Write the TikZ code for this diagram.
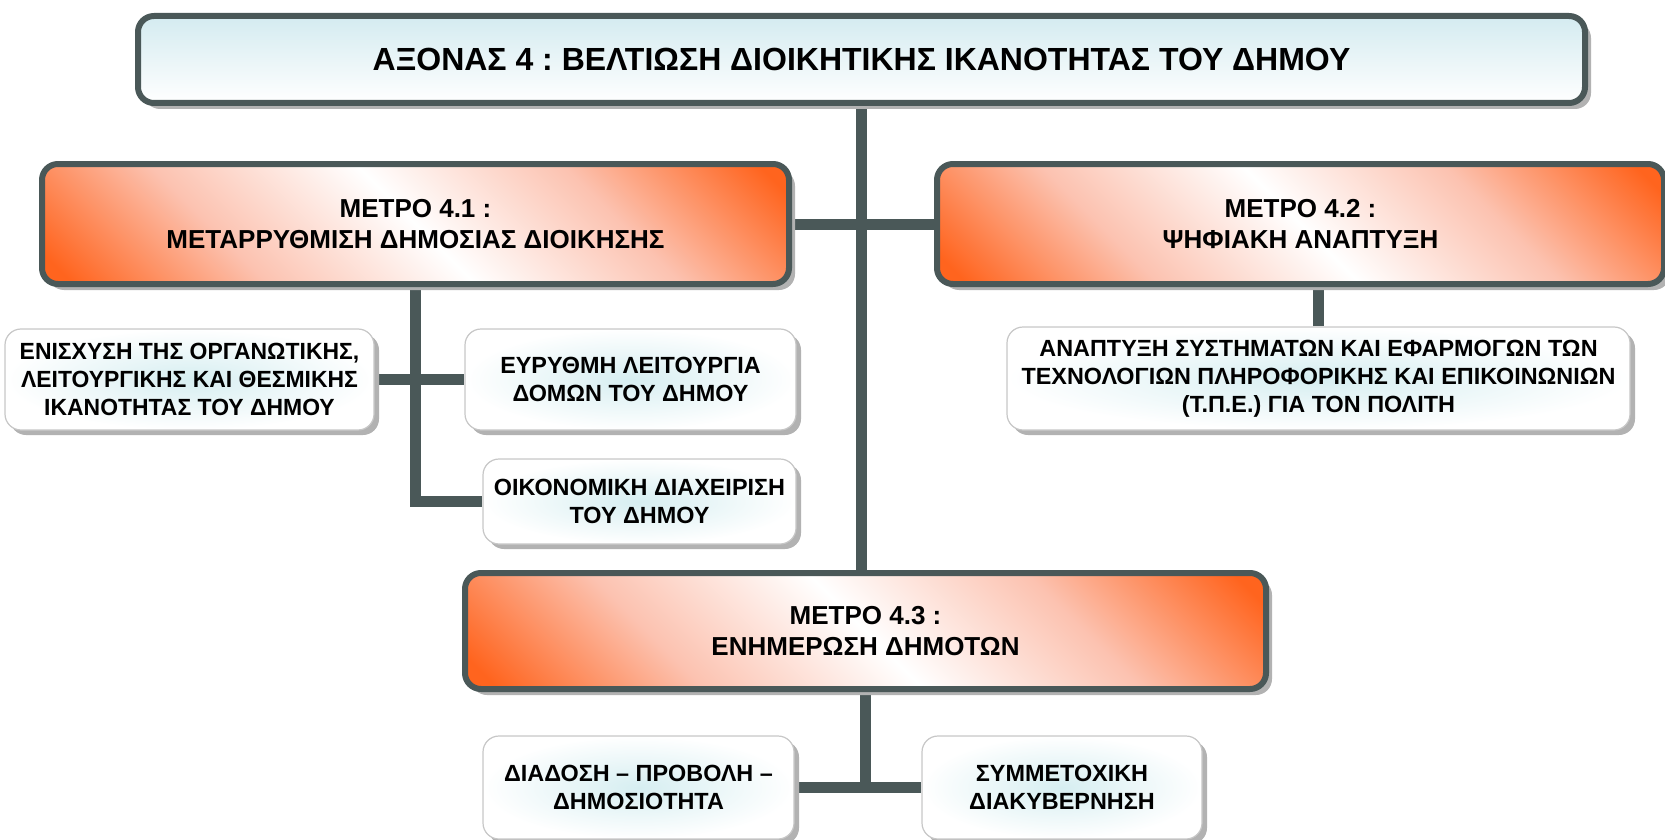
\documentclass[tikz,border=0pt]{standalone}
\usepackage{fontspec}
\setmainfont{Liberation Sans}
\frenchspacing
\usetikzlibrary{shadows,backgrounds}
\definecolor{slate}{RGB}{74,88,88}
\definecolor{mOrange}{RGB}{255,100,30}
\definecolor{mPeach}{RGB}{252,194,176}
\definecolor{tCyan}{RGB}{212,235,240}
\definecolor{gCyan}{RGB}{214,238,241}
\definecolor{sGray}{RGB}{178,178,178}
\pgfdeclareverticalshading{measureshade}{100bp}{color(0bp)=(mOrange); color(17bp)=(mOrange); color(33bp)=(mPeach); color(50bp)=(white); color(67bp)=(mPeach); color(83bp)=(mOrange); color(100bp)=(mOrange)}
\tikzset{
  mainbox/.style={draw=slate, line width=3pt, rounded corners=8pt, align=center, inner sep=0pt,
    font=\bfseries\fontsize{13}{15.5}\selectfont,
    drop shadow={shadow xshift=3pt, shadow yshift=-3pt, fill=sGray, opacity=1}},
  measure/.style={mainbox, shading=measureshade, shading angle=-45},
  leaf/.style={draw=black!22, line width=0.6pt, rounded corners=8pt, align=center, inner sep=0pt,
    shading=radial, inner color=gCyan, outer color=white,
    font=\bfseries\fontsize{11.7}{14}\selectfont,
    drop shadow={shadow xshift=2.5pt, shadow yshift=-2.5pt, fill=sGray, opacity=1}},
  link/.style={draw=slate, line width=5.5pt}
}
\begin{document}
\begin{tikzpicture}[x=0.5pt,y=-0.5pt] % pixel units, y down
  \useasboundingbox (0,0) rectangle (1665,840);
  % axis and measures
  \node[mainbox, top color=tCyan, bottom color=white, minimum width=723.5pt, minimum height=43.5pt,
    font=\bfseries\fontsize{16}{18}\selectfont] (axis) at (861.5,59.5)
    {ΑΞΟΝΑΣ 4 : ΒΕΛΤΙΩΣΗ ΔΙΟΙΚΗΤΙΚΗΣ ΙΚΑΝΟΤΗΤΑΣ ΤΟΥ ΔΗΜΟΥ};
  \node[measure, minimum width=373.5pt, minimum height=60pt] (m41) at (415.5,224)
    {ΜΕΤΡΟ 4.1 :\\ ΜΕΤΑΡΡΥΘΜΙΣΗ ΔΗΜΟΣΙΑΣ ΔΙΟΙΚΗΣΗΣ};
  \node[measure, minimum width=363.5pt, minimum height=60pt] (m42) at (1300.5,224)
    {ΜΕΤΡΟ 4.2 :\\ ΨΗΦΙΑΚΗ ΑΝΑΠΤΥΞΗ};
  \node[measure, minimum width=400.5pt, minimum height=58pt] (m43) at (865.5,631)
    {ΜΕΤΡΟ 4.3 :\\ ΕΝΗΜΕΡΩΣΗ ΔΗΜΟΤΩΝ};
  % actions
  \node[leaf, minimum width=184.5pt, minimum height=50.5pt,
    font=\bfseries\fontsize{11.7}{14}\selectfont\addfontfeatures{FakeStretch=0.98}] (org) at (189.5,379.5)
    {ΕΝΙΣΧΥΣΗ ΤΗΣ ΟΡΓΑΝΩΤΙΚΗΣ,\\ ΛΕΙΤΟΥΡΓΙΚΗΣ ΚΑΙ ΘΕΣΜΙΚΗΣ\\ ΙΚΑΝΟΤΗΤΑΣ ΤΟΥ ΔΗΜΟΥ};
  \node[leaf, minimum width=165.5pt, minimum height=50.5pt] (dom) at (630.5,379.5)
    {ΕΥΡΥΘΜΗ ΛΕΙΤΟΥΡΓΙΑ\\ ΔΟΜΩΝ ΤΟΥ ΔΗΜΟΥ};
  \node[leaf, minimum width=156.5pt, minimum height=42.5pt] (oik) at (639.5,501.5)
    {ΟΙΚΟΝΟΜΙΚΗ ΔΙΑΧΕΙΡΙΣΗ\\ ΤΟΥ ΔΗΜΟΥ};
  \node[leaf, minimum width=311.5pt, minimum height=51.5pt] (tpe) at (1318.5,378.5)
    {ΑΝΑΠΤΥΞΗ ΣΥΣΤΗΜΑΤΩΝ ΚΑΙ ΕΦΑΡΜΟΓΩΝ ΤΩΝ\\ ΤΕΧΝΟΛΟΓΙΩΝ ΠΛΗΡΟΦΟΡΙΚΗΣ ΚΑΙ ΕΠΙΚΟΙΝΩΝΙΩΝ\\ (Τ.Π.Ε.) ΓΙΑ ΤΟΝ ΠΟΛΙΤΗ};
  \node[leaf, minimum width=155.5pt, minimum height=51.5pt] (diad) at (638.5,787.5)
    {ΔΙΑΔΟΣΗ – ΠΡΟΒΟΛΗ –\\ ΔΗΜΟΣΙΟΤΗΤΑ};
  \node[leaf, minimum width=140pt, minimum height=51.5pt] (symm) at (1062,787.5)
    {ΣΥΜΜΕΤΟΧΙΚΗ\\ ΔΙΑΚΥΒΕΡΝΗΣΗ};
  % connectors
  \begin{scope}[on background layer]
    \draw[link] (axis.south) -- (axis.south |- m43.north);
    \draw[link] (m41.east) -- (m42.west);
    \draw[link] (m41.south) |- (oik.west);
    \draw[link] (org.east) -- (dom.west);
    \draw[link] (tpe.north) -- (tpe.north |- m42.south);
    \draw[link] (m43.south) -- (m43.south |- diad.east);
    \draw[link] (diad.east) -- (symm.west);
  \end{scope}
\end{tikzpicture}
\end{document}
